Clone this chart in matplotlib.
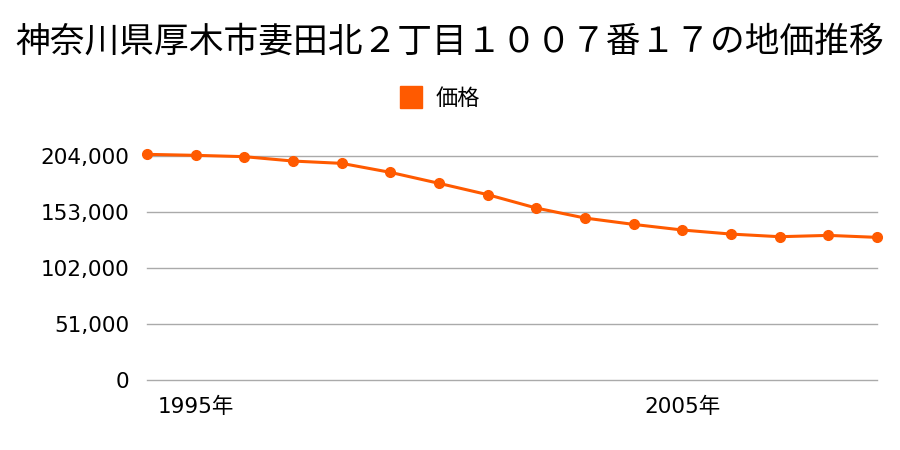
import matplotlib
matplotlib.use("Agg")
import matplotlib.pyplot as plt

plt.rcParams['font.family'] = ['Noto Sans CJK JP', 'DejaVu Sans']

title = "神奈川県厚木市妻田北２丁目１００７番１７の地価推移"
series_name = "価格"
years = list(range(1994, 2010))
values = [205500, 204600, 203400, 199400, 197300, 189100, 179100, 168800,
          156600, 147500, 141700, 136600, 132900, 130500, 131700, 129900]
yticks = [0, 51000, 102000, 153000, 204000]
xtick_years = [1995, 2005]
xtick_labels = ["1995年", "2005年"]

color = "#ff5a00"
num_font = ['DejaVu Sans', 'Noto Sans CJK JP']

fig = plt.figure(figsize=(9, 4.5), dpi=100)
ax = fig.add_axes([147/900, 1-380/450, 730/900, 224/450])

ax.plot(years, values, color=color, lw=2.2, marker="o", markersize=7,
        clip_on=False, zorder=3, label=series_name)

ax.set_xlim(years[0], years[-1])
ax.set_ylim(0, 204000)
ax.set_yticks(yticks)
ax.set_yticklabels([f"{v:,}" for v in yticks], fontsize=15.5, family=num_font)
ax.set_xticks(xtick_years)
ax.set_xticklabels(xtick_labels, fontsize=15.5, family=num_font)
ax.tick_params(axis='y', length=0, pad=13)
ax.tick_params(axis='x', length=0, pad=12)
ax.grid(axis='y', color="#aaaaaa", lw=1)
for gl in ax.get_ygridlines():
    gl.set_clip_on(False)
ax.set_axisbelow(True)
for s in ax.spines.values():
    s.set_visible(False)

fig.text(0.5, 1-42/450, title, ha='center', va='center', fontsize=25)

leg = fig.legend(handles=[plt.Line2D([], [], marker='s', color=color, ls='none', markersize=16)],
                 labels=[series_name], loc='center', bbox_to_anchor=(434/900, 1-98/450),
                 frameon=False, fontsize=16, handletextpad=0.1)

fig.savefig("out.png", dpi=100)
